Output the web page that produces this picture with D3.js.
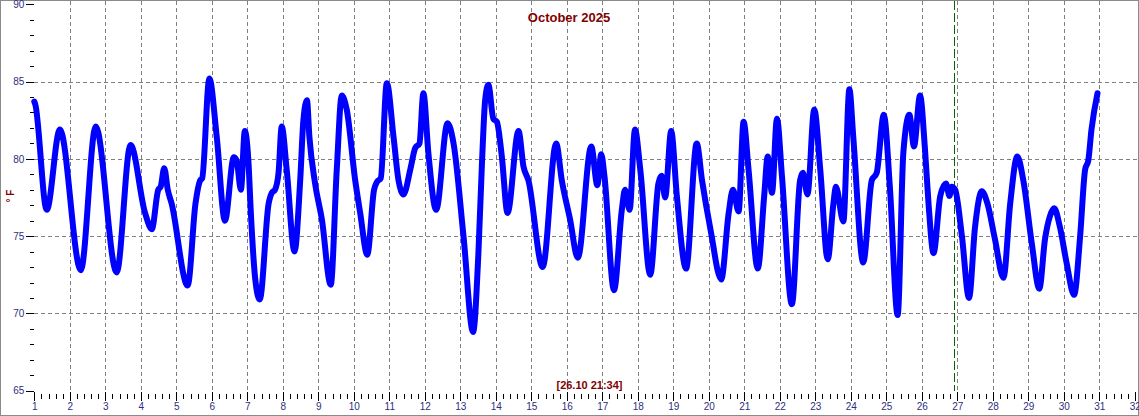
<!DOCTYPE html>
<html>
<head>
<meta charset="utf-8">
<script src="https://cdn.jsdelivr.net/npm/d3@7"></script>
<style>
  html, body { margin: 0; padding: 0; background: #fff; }
  svg { display: block; }
</style>
</head>
<body>
<svg id="chart" width="1139" height="416"></svg>
<script>
// ---- data ----
const title = "October 2025";
const cursorLabel = "[26.10 21:34]";
const cursorDay = 26 + (21 + 34 / 60) / 24;
const yLabel = "° F";
const xTickLabels = d3.range(1, 33);
const yTickLabels = [65, 70, 75, 80, 85, 90];

const days = [
  1.00, 1.03, 1.35, 1.72, 2.31, 2.73, 3.32, 3.71, 4.12, 4.31, 4.49, 4.56, 4.66, 4.76, 4.87,
  5.32, 5.54, 5.67, 5.73, 5.93, 6.14, 6.37, 6.62, 6.70, 6.82, 6.93, 7.03, 7.10, 7.22, 7.35,
  7.60, 7.69, 7.78, 7.88, 7.97, 8.11, 8.33, 8.49, 8.58, 8.68, 8.75, 8.91, 9.10, 9.35,
  9.52, 9.66, 9.80, 10.04, 10.18, 10.38, 10.57, 10.65, 10.76, 10.93, 11.12, 11.26, 11.40,
  11.59, 11.73, 11.85, 11.96, 12.10, 12.32, 12.64, 12.81, 13.09, 13.36, 13.51, 13.61, 13.70,
  13.79, 13.93, 14.03, 14.17, 14.33, 14.64, 14.78, 14.92, 15.32, 15.70, 15.86, 16.09, 16.31,
  16.69, 16.86, 16.97, 17.06, 17.33, 17.55, 17.64, 17.77, 17.92, 18.07, 18.35, 18.58, 18.67,
  18.77, 18.94, 19.10, 19.36, 19.66, 19.81, 20.05, 20.35, 20.56, 20.68, 20.84, 20.98, 21.12,
  21.38, 21.56, 21.66, 21.78, 21.92, 22.06, 22.34, 22.57, 22.65, 22.78, 22.97, 23.14, 23.35,
  23.51, 23.58, 23.79, 23.96, 24.07, 24.35, 24.59, 24.73, 24.93, 25.10, 25.32, 25.48, 25.65,
  25.78, 25.95, 26.09, 26.19, 26.33, 26.52, 26.68, 26.78, 26.84, 26.94, 27.13, 27.33, 27.50,
  27.69, 27.85, 28.06, 28.30, 28.49, 28.69, 28.86, 29.10, 29.31, 29.47, 29.61, 29.73, 29.89,
  30.08, 30.29, 30.46, 30.60, 30.69, 30.78, 30.95
];
const temps = [
  83.7, 83.5, 76.7, 81.9, 72.8, 82.1, 72.65, 80.9, 76.5, 75.45, 78.0, 78.2, 79.4, 78.0, 77.1,
  71.8, 77.1, 78.6, 78.75, 85.2, 81.4, 76.0, 80.1, 79.9, 78.0, 81.8, 79.9, 76.5, 72.3, 70.9,
  77.1, 77.8, 78.0, 79.1, 82.1, 79.3, 74.0, 78.6, 82.5, 83.8, 81.4, 78.4, 76.1, 71.85,
  79.3, 84.1, 83.2, 78.6, 76.5, 73.8, 78.0, 78.5, 78.75, 84.9, 81.4, 78.6, 77.7,
  79.3, 80.7, 81.0, 84.25, 80.4, 76.7, 82.3, 81.0, 75.0, 68.8, 73.9, 79.7, 83.8,
  84.8, 82.6, 82.4, 80.15, 76.5, 81.8, 79.5, 78.6, 73.0, 81.0, 78.6, 76.1, 73.6,
  80.8, 78.3, 80.3, 78.9, 71.5, 76.7, 78.0, 76.7, 81.9, 79.3, 72.5, 78.4, 78.9,
  77.5, 81.8, 77.6, 72.9, 81.0, 78.6, 75.4, 72.2, 76.5, 78.0, 76.6, 82.4, 79.3,
  72.9, 77.6, 80.15, 77.8, 82.6, 78.9, 70.6, 78.6, 79.1, 77.7, 83.2, 79.3, 73.5,
  77.1, 78.2, 75.95, 84.5, 81.4, 73.3, 78.6, 79.1, 82.85, 78.2, 69.9, 80.4, 82.85,
  80.8, 84.1, 80.6, 77.1, 73.9, 77.6, 78.4, 77.6, 78.2, 78.0, 75.0, 71.0, 75.6,
  77.9, 77.1, 74.8, 72.3, 77.1, 80.15, 78.6, 74.5, 71.6, 74.8, 76.3, 76.8, 75.6,
  73.25, 71.2, 75.0, 79.3, 79.9, 81.9, 84.25
];

// ---- layout ----
const W = 1139, H = 416;
const svg = d3.select("#chart");
const x = d3.scaleLinear().domain([1, 32]).range([34.3, 1134.8]);
const y = d3.scaleLinear().domain([65, 90]).range([390.7, 4.3]);
const labelColor = "#2e2e80";
const redColor = "#800000";

// frame
svg.append("rect").attr("x", 0.5).attr("y", 0.5).attr("width", W - 1).attr("height", H - 1)
  .attr("fill", "#fff").attr("stroke", "#8a8a8a").attr("stroke-width", 1);

// grid
const grid = svg.append("g").attr("stroke", "#808080").attr("stroke-width", 1)
  .attr("stroke-dasharray", "4,3").attr("shape-rendering", "crispEdges");
grid.selectAll("line.v").data(d3.range(2, 32)).join("line").attr("class", "v")
  .attr("x1", d => Math.round(x(d)) + 0.5).attr("x2", d => Math.round(x(d)) + 0.5)
  .attr("y1", 1).attr("y2", y(65));
grid.selectAll("line.h").data([70, 75, 80, 85]).join("line").attr("class", "h")
  .attr("x1", x(1)).attr("x2", W - 1)
  .attr("y1", d => Math.round(y(d)) + 0.5).attr("y2", d => Math.round(y(d)) + 0.5);

// cursor line
svg.append("line")
  .attr("x1", Math.round(x(cursorDay)) + 0.5).attr("x2", Math.round(x(cursorDay)) + 0.5)
  .attr("y1", 1).attr("y2", y(65))
  .attr("stroke", "#006400").attr("stroke-width", 1).attr("stroke-dasharray", "9,3")
  .attr("shape-rendering", "crispEdges");

// y axis
const yMajor = d3.axisLeft(y).tickValues(yTickLabels).tickSize(8).tickPadding(2).tickFormat(d3.format("d"));
const yMinor = d3.axisLeft(y).tickValues(d3.range(65, 91).filter(v => v % 5 !== 0)).tickSize(4).tickFormat("");
const gy = svg.append("g").attr("transform", `translate(${x(1)},0)`).call(yMajor);
const gy2 = svg.append("g").attr("transform", `translate(${x(1)},0)`).call(yMinor);
[gy, gy2].forEach(g => {
  g.select(".domain").remove();
  g.selectAll("line").attr("stroke", "#000").attr("shape-rendering", "crispEdges");
});
gy.selectAll("text").attr("fill", labelColor).style("font", "10px 'Liberation Sans', Arial, sans-serif");

// x axis
const xMajor = d3.axisBottom(x).tickValues(xTickLabels).tickSize(9).tickPadding(2).tickFormat(d3.format("d"));
const minorVals = d3.range(1, 32, 0.2).map(v => +v.toFixed(2)).filter(v => Math.abs(v - Math.round(v)) > 0.01);
const xMinor = d3.axisBottom(x).tickValues(minorVals).tickSize(5).tickFormat("");
const gx = svg.append("g").attr("transform", `translate(0,${y(65) + 1.5})`).call(xMajor);
const gx2 = svg.append("g").attr("transform", `translate(0,${y(65) + 3.5})`).call(xMinor);
[gx, gx2].forEach(g => {
  g.select(".domain").remove();
  g.selectAll("line").attr("stroke", "#000").attr("shape-rendering", "crispEdges");
});
gx.selectAll("text").attr("fill", labelColor).style("font", "10px 'Liberation Sans', Arial, sans-serif");

// temperature line
const pts = days.map((d, i) => [d, temps[i]]);
const line = d3.line().x(d => x(d[0])).y(d => y(d[1])).curve(d3.curveMonotoneX);
svg.append("path").datum(pts).attr("d", line)
  .attr("fill", "none").attr("stroke", "#0000ff").attr("stroke-width", 6)
  .attr("stroke-linejoin", "round").attr("stroke-linecap", "round");

// texts
svg.append("text").attr("x", 569).attr("y", 22).attr("text-anchor", "middle")
  .attr("fill", redColor).style("font", "bold 13px 'Liberation Sans', Arial, sans-serif")
  .text(title);
svg.append("text").attr("x", 589.5).attr("y", 389).attr("text-anchor", "middle")
  .attr("fill", redColor).style("font", "bold 11px 'Liberation Sans', Arial, sans-serif")
  .text(cursorLabel);
svg.append("text").attr("transform", "translate(14,196) rotate(-90)").attr("text-anchor", "middle")
  .attr("fill", redColor).style("font", "bold 10px 'Liberation Sans', Arial, sans-serif")
  .text(yLabel);
</script>
</body>
</html>
